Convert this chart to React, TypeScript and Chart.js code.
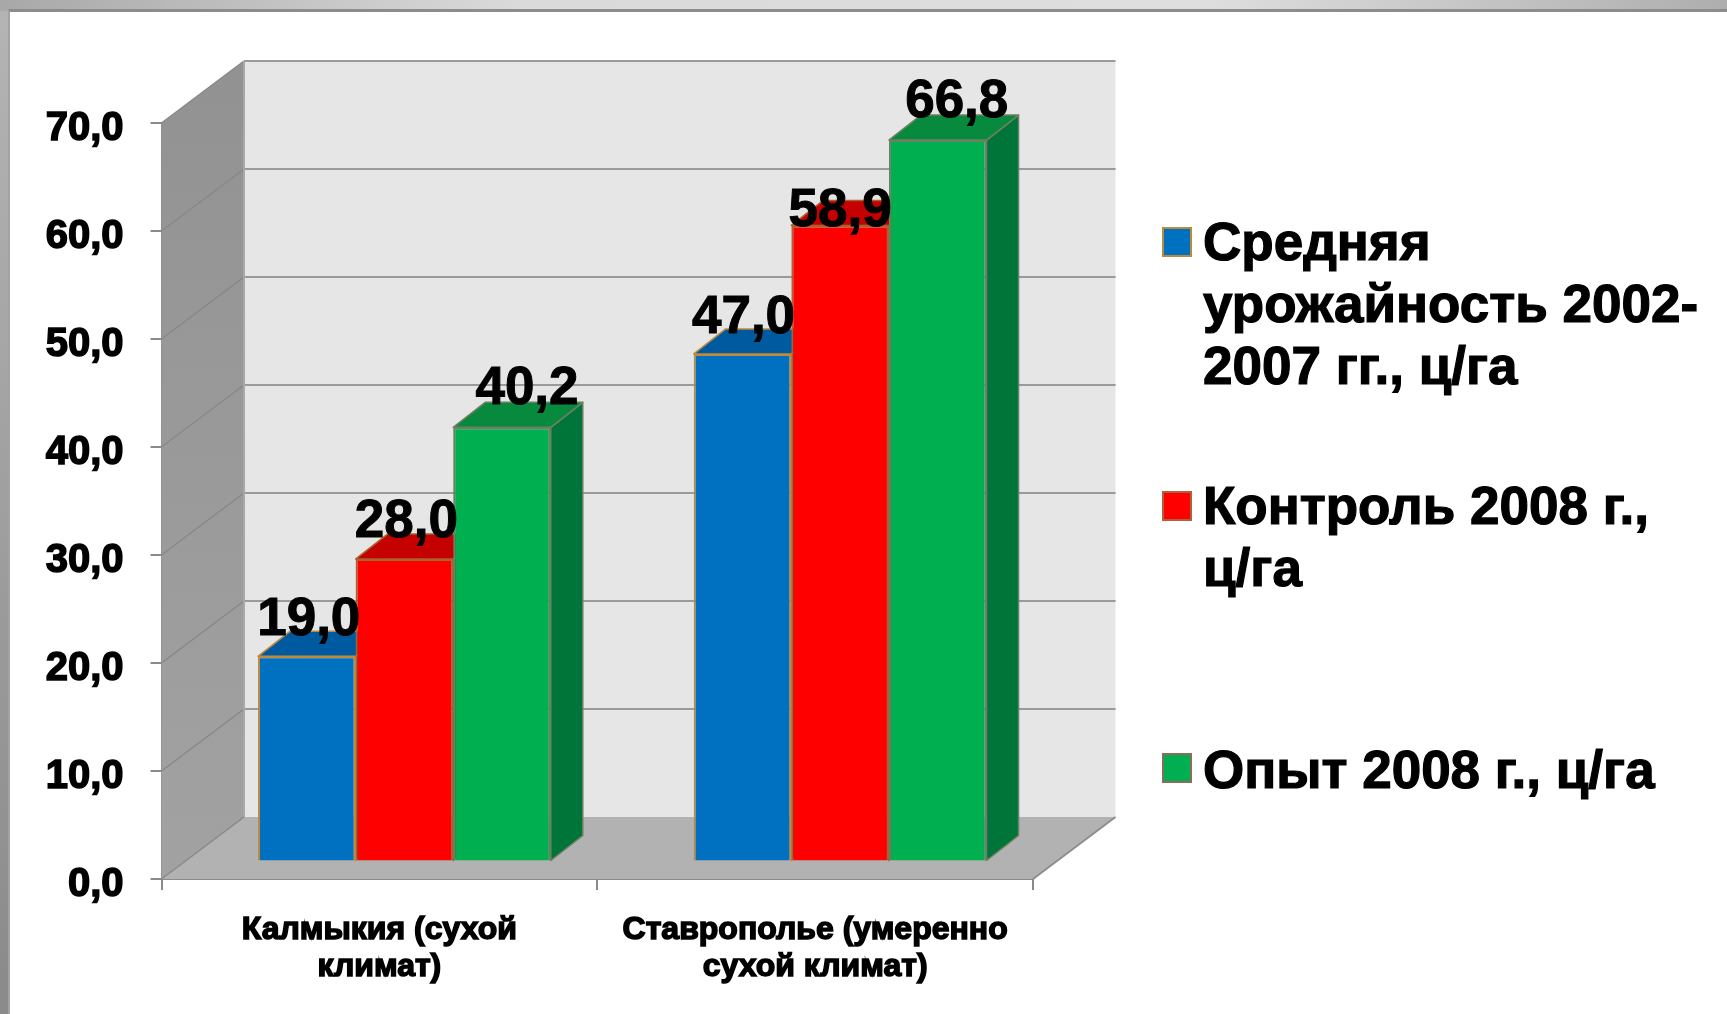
import React, { useEffect, useRef } from "react";
import { Chart, registerables } from "chart.js";

Chart.register(...registerables);

const categories = [["Калмыкия (сухой", "климат)"], ["Ставрополье (умеренно", "сухой климат)"]];
const seriesNames = ["Средняя урожайность 2002-2007 гг., ц/га", "Контроль 2008 г., ц/га", "Опыт 2008 г., ц/га"];
const legendLines = [["Средняя", "урожайность 2002-", "2007 гг., ц/га"], ["Контроль 2008 г.,", "ц/га"], ["Опыт 2008 г., ц/га"]];
const averageYield = [19.0, 47.0];
const control2008 = [28.0, 58.9];
const trial2008 = [40.2, 66.8];
const tickStep = 10;
const axisMax = 70;

const seriesValues = [averageYield, control2008, trial2008];
const frontColors = ["#0070C0", "#FF0000", "#00B050"];
const topColors = ["#005AA0", "#C40000", "#088A3E"];
const sideColors = ["#00508C", "#A00000", "#00753A"];
const borderColors = ["#C08A3A", "#A8622E", "#6F7F63"];
const swatchBorders = ["#B98A3E", "#B0603A", "#8B6B5B"];

// label shift per category, per series
const labelShift = [[[2, -36], [2, -37], [25, -38]], [[1, -36], [0, -14], [19, -38]]];
const legendBlocks = [{ swatch: 228, first: 245.5 }, { swatch: 492, first: 509.5 }, { swatch: 754, first: 773.5 }];

const FONT = '"Liberation Sans", Arial, sans-serif';
const WALL = { dx: 82.5, dy: -62 };
const BAR_SHIFT = { dx: 25, dy: -17.5 };
const BAR_DEPTH = { dx: 32, dy: -25 };

const fmt = (v: number) => v.toFixed(1).replace(".", ",");

const walls = {
  id: "walls",
  beforeDatasetsDraw(chart: any) {
    const { ctx, chartArea: a, scales } = chart;
    const y = scales.y;
    const { dx, dy } = WALL;
    ctx.save();
    // floor
    ctx.beginPath();
    ctx.moveTo(a.left, a.bottom);
    ctx.lineTo(a.right, a.bottom);
    ctx.lineTo(a.right + dx, a.bottom + dy);
    ctx.lineTo(a.left + dx, a.bottom + dy);
    ctx.closePath();
    ctx.fillStyle = "#B2B2B2";
    ctx.fill();
    // back wall
    ctx.fillStyle = "#E6E6E6";
    ctx.fillRect(a.left + dx, a.top + dy, a.right - a.left, a.bottom - a.top);
    // side wall
    const g = ctx.createLinearGradient(0, a.top + dy, 0, a.bottom);
    g.addColorStop(0, "#929292");
    g.addColorStop(1, "#A2A2A2");
    ctx.beginPath();
    ctx.moveTo(a.left, a.top);
    ctx.lineTo(a.left + dx, a.top + dy);
    ctx.lineTo(a.left + dx, a.bottom + dy);
    ctx.lineTo(a.left, a.bottom);
    ctx.closePath();
    ctx.fillStyle = g;
    ctx.fill();
    // gridlines
    for (let v = 0; v <= axisMax; v += tickStep) {
      const py = y.getPixelForValue(v);
      ctx.lineWidth = 1.5;
      ctx.strokeStyle = "#888888";
      ctx.beginPath();
      ctx.moveTo(a.left, py);
      ctx.lineTo(a.left + dx, py + dy);
      ctx.stroke();
      if (v > 0) {
        ctx.lineWidth = 2;
        ctx.strokeStyle = "#9A9A9A";
        ctx.beginPath();
        ctx.moveTo(a.left + dx, py + dy);
        ctx.lineTo(a.right + dx, py + dy);
        ctx.stroke();
      }
    }
    // edges
    ctx.lineWidth = 2;
    ctx.strokeStyle = "#A8A8A8";
    ctx.beginPath();
    ctx.moveTo(a.left + dx, a.top + dy);
    ctx.lineTo(a.left + dx, a.bottom + dy);
    ctx.stroke();
    ctx.strokeStyle = "#8E8E8E";
    ctx.beginPath();
    ctx.moveTo(a.right, a.bottom);
    ctx.lineTo(a.right + dx, a.bottom + dy);
    ctx.stroke();
    ctx.restore();

    // bars: back faces first, painted blue to green so that nearer series overlap
    ctx.save();
    ctx.translate(BAR_SHIFT.dx, BAR_SHIFT.dy);
    chart.data.datasets.forEach((_: any, i: number) => {
      const meta = chart.getDatasetMeta(i);
      const d = BAR_DEPTH;
      ctx.save();
      ctx.lineWidth = 1.5;
      ctx.lineJoin = "round";
      ctx.strokeStyle = borderColors[i];
      meta.data.forEach((bar: any) => {
        const p = bar.getProps(["x", "y", "base", "width"]);
        const l = p.x - p.width / 2;
        const r = p.x + p.width / 2;
        ctx.fillStyle = sideColors[i];
        ctx.beginPath();
        ctx.moveTo(r, p.y);
        ctx.lineTo(r + d.dx, p.y + d.dy);
        ctx.lineTo(r + d.dx, p.base + d.dy);
        ctx.lineTo(r, p.base);
        ctx.closePath();
        ctx.fill();
        ctx.stroke();
        ctx.fillStyle = topColors[i];
        ctx.beginPath();
        ctx.moveTo(l, p.y);
        ctx.lineTo(l + d.dx, p.y + d.dy);
        ctx.lineTo(r + d.dx, p.y + d.dy);
        ctx.lineTo(r, p.y);
        ctx.closePath();
        ctx.fill();
        ctx.stroke();
      });
      ctx.restore();
      meta.controller.draw();
    });
    ctx.restore();
  },
  beforeDatasetDraw() {
    // already painted above, in the order a 3D column needs
    return false;
  },
  afterDatasetsDraw(chart: any) {
    const { ctx } = chart;
    // value labels
    ctx.save();
    ctx.font = `bold 53px ${FONT}`;
    ctx.textAlign = "center";
    ctx.textBaseline = "middle";
    ctx.fillStyle = "#000";
    ctx.strokeStyle = "#000";
    ctx.lineWidth = 1;
    chart.data.datasets.forEach((ds: any, i: number) => {
      chart.getDatasetMeta(i).data.forEach((bar: any, j: number) => {
        const p = bar.getProps(["x", "y"]);
        const [ox, oy] = labelShift[j][i];
        const tx = p.x + BAR_SHIFT.dx + ox;
        const ty = p.y + BAR_SHIFT.dy + oy;
        ctx.fillText(fmt(ds.data[j]), tx, ty);
        ctx.strokeText(fmt(ds.data[j]), tx, ty);
      });
    });
    ctx.restore();
    // legend
    ctx.save();
    ctx.font = `bold 53px ${FONT}`;
    ctx.textAlign = "left";
    ctx.textBaseline = "middle";
    legendLines.forEach((lines, i) => {
      const b = legendBlocks[i];
      ctx.fillStyle = frontColors[i];
      ctx.strokeStyle = swatchBorders[i];
      ctx.lineWidth = 2;
      ctx.fillRect(1163, b.swatch, 28, 28);
      ctx.strokeRect(1163, b.swatch, 28, 28);
      ctx.fillStyle = "#000";
      ctx.strokeStyle = "#000";
      ctx.lineWidth = 1.2;
      lines.forEach((t, k) => {
        ctx.fillText(t, 1203, b.first + k * 61.7);
        ctx.strokeText(t, 1203, b.first + k * 61.7);
      });
    });
    ctx.restore();
  },
};

export default function App() {
  const ref = useRef<HTMLCanvasElement>(null);
  useEffect(() => {
    const chart = new Chart(ref.current as HTMLCanvasElement, {
      type: "bar",
      data: {
        labels: categories as any,
        datasets: seriesValues.map((data, i) => ({
          label: seriesNames[i],
          data,
          clip: false as any,
          backgroundColor: frontColors[i],
          borderColor: borderColors[i],
          borderWidth: 2,
          categoryPercentage: 0.672,
          barPercentage: 1,
        })),
      },
      options: {
        responsive: false,
        animation: false,
        layout: { padding: { left: 0, top: 123, right: 694, bottom: 0 } },
        plugins: { legend: { display: false }, title: { display: false }, tooltip: { enabled: false } },
        scales: {
          x: {
            offset: true,
            grid: { offset: true, drawOnChartArea: false, drawTicks: true, tickLength: 11, color: "#8A8A8A", lineWidth: 2 },
            border: { color: "#8A8A8A", width: 2 },
            ticks: {
              maxRotation: 0,
              autoSkip: false,
              padding: 22,
              color: "#000",
              font: { family: FONT, size: 32, weight: "bold", lineHeight: 1.15 },
              textStrokeColor: "#000",
              textStrokeWidth: 1.5,
            } as any,
            afterFit(s: any) {
              s.height = 135;
              s.paddingLeft = 0;
              s.paddingRight = 0;
            },
          },
          y: {
            min: 0,
            max: axisMax,
            grid: { drawOnChartArea: false, drawTicks: true, tickLength: 11, color: "#8A8A8A", lineWidth: 2 },
            border: { color: "#8A8A8A", width: 2 },
            ticks: {
              stepSize: tickStep,
              padding: 27,
              labelOffset: 5.5,
              color: "#000",
              font: { family: FONT, size: 40, weight: "bold" },
              textStrokeColor: "#000",
              textStrokeWidth: 1.5,
              callback: (v: any) => fmt(Number(v)),
            } as any,
            afterFit(s: any) {
              s.width = 161.5;
              s.paddingTop = 0;
              s.paddingBottom = 0;
            },
          },
        },
      },
      plugins: [walls],
    });
    return () => chart.destroy();
  }, []);
  return (
    <div
      style={{
        position: "fixed",
        left: 0,
        top: 0,
        width: 1727,
        height: 1014,
        overflow: "hidden",
        background: "linear-gradient(90deg,#A8A8A8 0%,#DADADA 30%,#DEDEDE 70%,#AEAEAE 100%)",
      }}
    >
      <div style={{ position: "absolute", left: 0, top: 11, width: 9, height: 1003, background: "linear-gradient(180deg,#B4B4B4 0%,#8A8A8A 100%)" }} />
      <div
        style={{
          position: "absolute",
          left: 8,
          top: 9,
          width: 1719,
          height: 1005,
          boxSizing: "border-box",
          background: "#fff",
          borderTop: "3px solid #8C8C8C",
          borderLeft: "2px solid #A4A4A4",
        }}
      />
      <canvas ref={ref} width={1727} height={1014} style={{ position: "absolute", left: 0, top: 0, width: 1727, height: 1014 }} />
    </div>
  );
}
